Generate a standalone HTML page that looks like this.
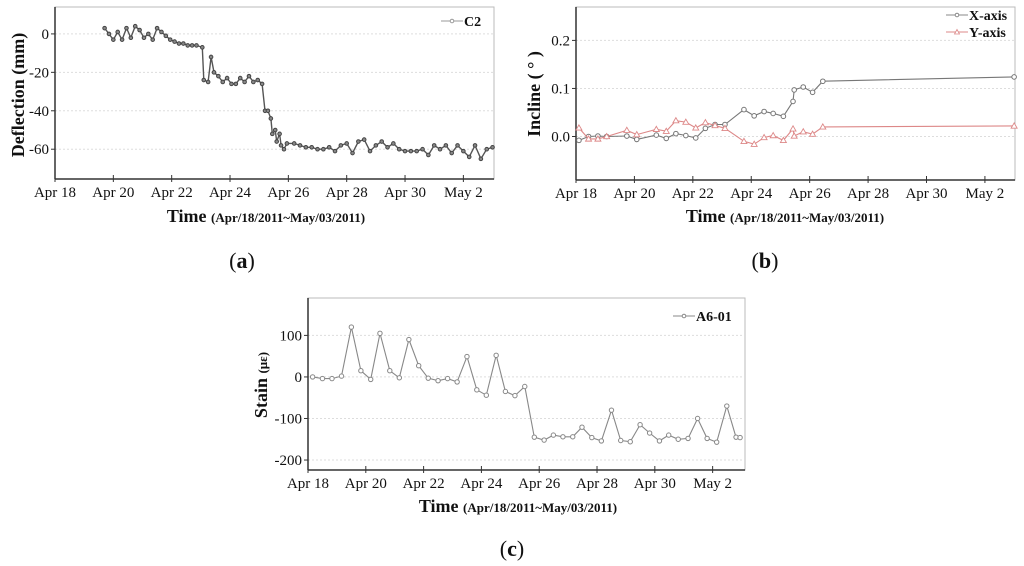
<!DOCTYPE html>
<html><head><meta charset="utf-8">
<style>
html,body{margin:0;padding:0;background:#fff;}
svg{display:block;font-family:"Liberation Serif",serif;}
</style></head>
<body>
<svg id="fig" width="1024" height="566" viewBox="0 0 1024 566"></svg>
<script>
// ---- Chart (a) data: C2 deflection (mm) ----
const aDays = [19.7,19.85,20.0,20.15,20.3,20.45,20.6,20.75,20.9,21.05,21.2,21.35,21.5,21.65,21.8,21.95,22.1,22.25,22.4,22.55,22.7,22.85,23.05,23.1,23.25,23.35,23.45,23.6,23.75,23.9,24.05,24.2,24.35,24.5,24.65,24.8,24.95,25.1,25.2,25.3,25.4,25.45,25.55,25.6,25.7,25.75,25.85,25.95,26.2,26.4,26.6,26.8,27,27.2,27.4,27.6,27.8,28,28.2,28.4,28.6,28.8,29,29.2,29.4,29.6,29.8,30,30.2,30.4,30.6,30.8,31,31.2,31.4,31.6,31.8,32,32.2,32.4,32.6,32.8,33];
const aVals = [3,0,-3,1,-3,3,-2,4,2,-2,0,-3,3,1,-1,-3,-4,-5,-5,-6,-6,-6,-7,-24,-25,-12,-20,-22,-25,-23,-26,-26,-23,-25,-22,-25,-24,-26,-40,-40,-44,-52,-50,-56,-52,-58,-60,-57,-57,-58,-59,-59,-60,-60,-59,-61,-58,-57,-62,-56,-55,-61,-58,-56,-59,-57,-60,-61,-61,-61,-60,-63,-58,-60,-58,-62,-58,-61,-64,-58,-65,-60,-59];
const aYTicks = [0,-20,-40,-60];
// ---- Chart (b) data: incline ----
const bDays = [18.1,18.43,18.75,19.05,19.74,20.08,20.75,21.09,21.42,21.76,22.1,22.43,22.76,23.1,23.75,24.1,24.44,24.75,25.1,25.43,25.47,25.78,26.1,26.45,33.0];
const bX = [-0.008,0,0.001,0,0.001,-0.006,0.003,-0.004,0.006,0.002,-0.003,0.017,0.025,0.025,0.056,0.043,0.052,0.048,0.042,0.073,0.097,0.103,0.092,0.115,0.124];
const bY = [0.018,-0.005,-0.005,0,0.013,0.004,0.015,0.011,0.033,0.030,0.018,0.029,0.023,0.017,-0.01,-0.016,-0.002,0.002,-0.008,0.016,0.001,0.01,0.005,0.02,0.022];
const bYTicks = [0.2,0.1,0.0];
const bYLabels = ["0.2","0.1","0.0"];
// ---- Chart (c) data: A6-01 strain ----
const cDays = [18.16,18.5,18.83,19.16,19.5,19.83,20.17,20.49,20.83,21.16,21.49,21.83,22.16,22.5,22.83,23.16,23.5,23.84,24.17,24.51,24.83,25.16,25.5,25.83,26.17,26.49,26.82,27.16,27.48,27.82,28.15,28.5,28.82,29.15,29.49,29.82,30.16,30.48,30.81,31.15,31.48,31.81,32.14,32.49,32.81,32.95];
const cVals = [0,-4,-4,2,120,15,-6,105,15,-2,90,27,-3,-9,-4,-12,49,-31,-44,52,-35,-45,-23,-145,-152,-140,-144,-144,-121,-146,-154,-80,-153,-156,-115,-135,-154,-140,-150,-148,-100,-148,-157,-70,-145,-146];
const cYTicks = [100,0,-100,-200];
// shared x tick labels
const xTickDays = [18,20,22,24,26,28,30,32];
const xTickLabels = ["Apr 18","Apr 20","Apr 22","Apr 24","Apr 26","Apr 28","Apr 30","May 2"];

const NS="http://www.w3.org/2000/svg";
const svg=document.getElementById('fig');
function mk(tag,attrs,parent){const e=document.createElementNS(NS,tag);for(const k in attrs)e.setAttribute(k,attrs[k]);(parent||svg).appendChild(e);return e;}
function txt(s,attrs,parent){const e=mk('text',attrs,parent);e.textContent=s;return e;}

function chart(o){
  const g=mk('g',{});
  
  
  const xs=d=>o.L+(d-o.d0)/(o.d1-o.d0)*(o.R-o.L);
  const ys=v=>o.T+(o.v1-v)/(o.v1-o.v0)*(o.B-o.T);
  const fr=mk('rect',{x:o.L,y:o.T,width:o.R-o.L,height:o.B-o.T,fill:'none',stroke:'#bbb','stroke-width':1},g);
  
  
  o.yTicks.forEach((v,i)=>{
    const y=ys(v);
    const gl=mk('line',{x1:o.L,x2:o.R,y1:y,y2:y,stroke:'#ddd','stroke-dasharray':'2,2'},g);
    
    
    mk('line',{x1:o.L-4,x2:o.L,y1:y,y2:y,stroke:'#333'},g);
    const t=txt(o.yLabels?o.yLabels[i]:String(v),{x:o.L-6,y:y+5,'text-anchor':'end','font-size':15,fill:'#111'},g);
    
    
  });
  mk('line',{x1:o.L,x2:o.L,y1:o.T,y2:o.B,stroke:'#333','stroke-width':1.5},g);
  mk('line',{x1:o.L,x2:o.R,y1:o.B,y2:o.B,stroke:'#333','stroke-width':1.5},g);
  xTickDays.forEach((d,i)=>{
    const x=xs(d);
    mk('line',{x1:x,x2:x,y1:o.B-4,y2:o.B+3,stroke:'#333'},g);
    const t=txt(xTickLabels[i],{x:x,y:o.B+18,'text-anchor':'middle','font-size':15,fill:'#111'},g);
    
    
  });
  o.series.forEach(s=>{
    const pts=s.days.map((d,i)=>xs(d).toFixed(1)+','+ys(s.vals[i]).toFixed(1)).join(' ');
    const pl=mk('polyline',{points:pts,fill:'none',stroke:s.color,'stroke-width':s.lw||1.1},g);
    
    
    s.days.forEach((d,i)=>{
      const x=xs(d),y=ys(s.vals[i]);
      let m;
      if(s.marker==='tri'){
        m=mk('polygon',{points:`${x},${y-3} ${x-3},${y+2.2} ${x+3},${y+2.2}`,fill:'#fff',stroke:s.mcolor,'stroke-width':0.9},g);
      } else {
        m=mk('circle',{cx:x,cy:y,r:s.r||2.3,fill:s.fill||'#fff',stroke:s.mcolor,'stroke-width':1},g);
      }
      
      
    });
  });
  return g;
}

chart({name:'chart-a-deflection',L:55,R:494,T:7,B:179,d0:18,d1:33.05,v0:-75.5,v1:14,yTicks:aYTicks,
  series:[{name:'c2',days:aDays,vals:aVals,color:'#555',mcolor:'#444',fill:'#888',r:1.8,lw:1.4}]});
chart({name:'chart-b-incline',L:576,R:1015,T:7,B:180,d0:18,d1:33.03,v0:-0.0905,v1:0.2695,yTicks:bYTicks,yLabels:bYLabels,
  series:[{name:'x-axis',days:bDays,vals:bX,color:'#777',mcolor:'#777'},
          {name:'y-axis',days:bDays,vals:bY,color:'#d88',mcolor:'#d88',marker:'tri'}]});
chart({name:'chart-c-strain',L:308,R:745,T:298,B:470,d0:18,d1:33.12,v0:-224,v1:190,yTicks:cYTicks,
  series:[{name:'a6-01',days:cDays,vals:cVals,color:'#888',mcolor:'#888',r:2.2}]});

function legend(x,y,label,color,marker,name){
  const g=mk('g',{});
  
  
  mk('line',{x1:x,x2:x+22,y1:y,y2:y,stroke:color,'stroke-width':1},g);
  if(marker==='tri')mk('polygon',{points:`${x+11},${y-2.5} ${x+8.5},${y+2} ${x+13.5},${y+2}`,fill:'#fff',stroke:color,'stroke-width':0.8},g);
  else mk('circle',{cx:x+11,cy:y,r:1.8,fill:'#fff',stroke:color},g);
  txt(label,{x:x+23,y:y+5,'font-size':14,'font-weight':'bold',fill:'#111'},g);
}
legend(441,21,'C2','#999','c','legend-c2');
legend(946,15,'X-axis','#888','c','legend-x-axis');
legend(946,32,'Y-axis','#d88','tri','legend-y-axis');
legend(673,316,'A6-01','#888','c','legend-a6-01');

function title(html,attrs,name){const t=mk('text',attrs);t.innerHTML=html;return t;}
title('Deflection (mm)',{x:0,y:0,transform:'translate(24,95) rotate(-90)','text-anchor':'middle','font-size':18,'font-weight':'bold',fill:'#111'},'y-axis-title-a');
title('Incline ( ° )',{x:0,y:0,transform:'translate(540,94) rotate(-90)','text-anchor':'middle','font-size':18,'font-weight':'bold',fill:'#111'},'y-axis-title-b');
title('Stain <tspan font-size="13">(με)</tspan>',{x:0,y:0,transform:'translate(267,385) rotate(-90)','text-anchor':'middle','font-size':18,'font-weight':'bold',fill:'#111'},'y-axis-title-c');
title('Time <tspan font-size="13">(Apr/18/2011~May/03/2011)</tspan>',{x:266,y:222,'text-anchor':'middle','font-size':18,'font-weight':'bold',fill:'#111'},'x-axis-title-a');
title('Time <tspan font-size="13">(Apr/18/2011~May/03/2011)</tspan>',{x:785,y:222,'text-anchor':'middle','font-size':18,'font-weight':'bold',fill:'#111'},'x-axis-title-b');
title('Time <tspan font-size="13">(Apr/18/2011~May/03/2011)</tspan>',{x:518,y:512,'text-anchor':'middle','font-size':18,'font-weight':'bold',fill:'#111'},'x-axis-title-c');
title('(<tspan font-weight="bold">a</tspan>)',{x:242,y:268,'text-anchor':'middle','font-size':22,fill:'#111'},'panel-label-a');
title('(<tspan font-weight="bold">b</tspan>)',{x:765,y:268,'text-anchor':'middle','font-size':22,fill:'#111'},'panel-label-b');
title('(<tspan font-weight="bold">c</tspan>)',{x:512,y:556,'text-anchor':'middle','font-size':22,fill:'#111'},'panel-label-c');
</script>
</body></html>
